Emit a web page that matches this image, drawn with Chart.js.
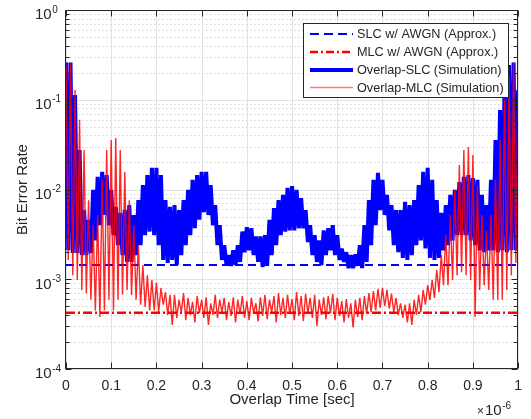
<!DOCTYPE html>
<html><head><meta charset="utf-8">
<script src="https://cdn.jsdelivr.net/npm/chart.js@4/dist/chart.umd.min.js"></script>
<style>html,body{margin:0;padding:0;background:#fff;overflow:hidden}</style>
</head><body>
<canvas id="c" width="531" height="419" style="display:block;width:531px;height:419px"></canvas>
<script>
// ---- data (x in units of 1e-6 s) ----
const seriesNames = ['SLC w/ AWGN (Approx.)', 'MLC w/ AWGN (Approx.)', 'Overlap-SLC (Simulation)', 'Overlap-MLC (Simulation)'];
const xTickValues = [0, 0.1, 0.2, 0.3, 0.4, 0.5, 0.6, 0.7, 0.8, 0.9, 1];
const xTickLabels = ['0', '0.1', '0.2', '0.3', '0.4', '0.5', '0.6', '0.7', '0.8', '0.9', '1'];
const yTickExponents = [-4, -3, -2, -1, 0];
const xMultiplierExp = '-6';
const slcApprox = 1.44e-3;
const mlcApprox = 4.24e-4;

// upper / lower extremes of the fast oscillation, sampled every 0.01e-6 s
const slcSimHigh = [
 0.26, 0.26, 0.113, 0.0275, 0.0059, 0.0046, 0.0099, 0.0138, 0.0157, 0.0145,
 0.0099, 0.0064, 0.0055, 0.0059, 0.0067, 0.0052, 0.0076, 0.0112, 0.0145, 0.0174,
 0.0174, 0.0145, 0.0076, 0.0064, 0.0067, 0.0059, 0.0076, 0.0099, 0.0128, 0.0145,
 0.0157, 0.0157, 0.0112, 0.0067, 0.0040, 0.0024, 0.00186, 0.0021, 0.0024, 0.0034,
 0.0038, 0.0037, 0.0030, 0.0030, 0.0031, 0.0046, 0.0062, 0.0076, 0.0087, 0.0104,
 0.0109, 0.0099, 0.0080, 0.0059, 0.0040, 0.0031, 0.0027, 0.0035, 0.0037, 0.0040,
 0.0031, 0.0022, 0.0020, 0.00186, 0.0019, 0.0024, 0.0040, 0.0076, 0.0128, 0.0153,
 0.0128, 0.0087, 0.0067, 0.0059, 0.0059, 0.0073, 0.0067, 0.0076, 0.0112, 0.0157,
 0.0174, 0.0128, 0.0076, 0.0055, 0.0067, 0.0087, 0.0099, 0.0121, 0.0138, 0.0145,
 0.0134, 0.0128, 0.0087, 0.0067, 0.0128, 0.0356, 0.0769, 0.146, 0.244, 0.26,
 0.128
];
const slcSimLow = [
 0.0021, 0.00196, 0.00196, 0.00186, 0.00186, 0.00196, 0.0027, 0.0040, 0.0052, 0.0040,
 0.0031, 0.0024, 0.00186, 0.00156, 0.00156, 0.00186, 0.0024, 0.0031, 0.0034, 0.0031,
 0.0024, 0.00164, 0.00152, 0.00164, 0.00144, 0.00186, 0.0024, 0.0031, 0.0037, 0.0046,
 0.0056, 0.0052, 0.0040, 0.0024, 0.00164, 0.00144, 0.00141, 0.00144, 0.00156, 0.0020,
 0.0021, 0.00186, 0.00156, 0.00137, 0.00144, 0.00186, 0.0024, 0.0031, 0.0034, 0.0035,
 0.0035, 0.0037, 0.0037, 0.0026, 0.00186, 0.00156, 0.00144, 0.00186, 0.0021, 0.00186,
 0.00164, 0.00156, 0.00133, 0.00133, 0.00141, 0.00133, 0.00156, 0.0024, 0.0040, 0.0059,
 0.0052, 0.0035, 0.0024, 0.0020, 0.00173, 0.00164, 0.00186, 0.0024, 0.0027, 0.0022,
 0.00173, 0.00164, 0.00173, 0.0021, 0.0024, 0.0027, 0.0031, 0.0031, 0.0031, 0.0027,
 0.0024, 0.0021, 0.0020, 0.0021, 0.0021, 0.0020, 0.0021, 0.0020, 0.0021, 0.0021
];
const mlcSimHigh = [
 0.244, 0.26, 0.128, 0.06, 0.0275, 0.0076, 0.0040, 0.0052, 0.0128, 0.0275,
 0.0356, 0.0375, 0.0275, 0.0157, 0.0076, 0.0040, 0.0024, 0.00144, 0.00111, 0.00098,
 0.00091, 0.00080, 0.00072, 0.00067, 0.00067, 0.00059, 0.00070, 0.00062, 0.00056, 0.00065,
 0.00059, 0.00063, 0.00054, 0.00067, 0.00059, 0.00062, 0.00056, 0.00063, 0.00059, 0.00065,
 0.00057, 0.00062, 0.00054, 0.00063, 0.00067, 0.00059, 0.00065, 0.00070, 0.00062, 0.00067,
 0.00060, 0.00072, 0.00065, 0.00069, 0.00062, 0.00067, 0.00059, 0.00063, 0.00065, 0.00069,
 0.00062, 0.00057, 0.00060, 0.00054, 0.00059, 0.00062, 0.00065, 0.00070, 0.00074, 0.00078,
 0.00080, 0.00076, 0.00069, 0.00062, 0.00054, 0.00052, 0.00054, 0.00059, 0.00067, 0.00076,
 0.00086, 0.00098, 0.00127, 0.00186, 0.0031, 0.0052, 0.0099, 0.0187, 0.0275, 0.0298,
 0.0242, 0.0112, 0.0052, 0.0035, 0.0052, 0.0128, 0.0356, 0.1, 0.189, 0.26,
 0.166
];
const mlcSimLow = [
 0.00164, 0.00111, 0.00098, 0.00076, 0.00070, 0.00059, 0.00045, 0.00038, 0.00045, 0.00059,
 0.00045, 0.00059, 0.00067, 0.00076, 0.00067, 0.00059, 0.00052, 0.00049, 0.00045, 0.00045,
 0.00043, 0.00052, 0.00040, 0.00031, 0.00037, 0.00043, 0.00035, 0.00040, 0.00033, 0.00042,
 0.00037, 0.00031, 0.00040, 0.00037, 0.00043, 0.00035, 0.00039, 0.00033, 0.00041, 0.00037,
 0.00035, 0.00042, 0.00034, 0.00039, 0.00036, 0.00043, 0.00033, 0.00040, 0.00037, 0.00041,
 0.00035, 0.00039, 0.00034, 0.00042, 0.00037, 0.00030, 0.00040, 0.00036, 0.00042, 0.00035,
 0.00039, 0.00033, 0.00037, 0.00029, 0.00038, 0.00035, 0.00041, 0.00043, 0.00045, 0.00048,
 0.00050, 0.00047, 0.00043, 0.00040, 0.00037, 0.00033, 0.00031, 0.00040, 0.00043, 0.00052,
 0.00059, 0.00062, 0.00072, 0.00086, 0.00086, 0.00098, 0.00111, 0.00120, 0.00111, 0.00098,
 0.00038, 0.00076, 0.00086, 0.00076, 0.00059, 0.00059, 0.00059, 0.00076, 0.00111, 0.00152
];
const sampleStep = 0.01;

// interleave the extremes into one oscillating trace
function oscillation(high, low) {
  const pts = [];
  for (let i = 0; i < high.length; i++) {
    pts.push({x: +(i * sampleStep).toFixed(4), y: high[i]});
    if (i < low.length) pts.push({x: +(i * sampleStep + sampleStep / 2).toFixed(4), y: low[i]});
  }
  return pts;
}

const TXT = '#262626';
const FONT = "'Liberation Sans', Arial, sans-serif";
Chart.defaults.font.family = FONT;
Chart.defaults.color = TXT;

const legendStyles = [
  {color: '#0000ff', width: 2, dash: [9, 5]},
  {color: '#ff0000', width: 2.5, dash: [8, 3, 2, 3]},
  {color: '#0000ff', width: 4, dash: []},
  {color: 'rgba(255,80,80,0.75)', width: 1.5, dash: []}
];

const matlabAxes = {
  id: 'matlabAxes',
  beforeDatasetsDraw(chart) {
    const {ctx, chartArea: a, scales: {x, y}} = chart;
    ctx.save();
    ctx.lineWidth = 1;
    // minor y grid (dotted)
    ctx.strokeStyle = '#d2d2d2';
    ctx.setLineDash([1.5, 2.5]);
    for (let e = -4; e < 0; e++) {
      for (let m = 2; m <= 9; m++) {
        const py = Math.round(y.getPixelForValue(m * Math.pow(10, e))) + 0.5;
        ctx.beginPath(); ctx.moveTo(a.left, py); ctx.lineTo(a.right, py); ctx.stroke();
      }
    }
    ctx.setLineDash([]);
    ctx.strokeStyle = '#e2e2e2';
    for (const e of yTickExponents) {
      const py = Math.round(y.getPixelForValue(Math.pow(10, e))) + 0.5;
      ctx.beginPath(); ctx.moveTo(a.left, py); ctx.lineTo(a.right, py); ctx.stroke();
    }
    for (const v of xTickValues) {
      const px = Math.round(x.getPixelForValue(v)) + 0.5;
      ctx.beginPath(); ctx.moveTo(px, a.top); ctx.lineTo(px, a.bottom); ctx.stroke();
    }
    ctx.restore();
  },
  afterDatasetsDraw(chart) {
    const {ctx, chartArea: a, scales: {x, y}} = chart;
    ctx.save();
    ctx.strokeStyle = TXT;
    ctx.lineWidth = 1;
    const L = Math.round(a.left) - 0.5, R = Math.round(a.right) - 0.5;
    const T = Math.round(a.top) + 0.5, B = Math.round(a.bottom) - 0.5;
    ctx.strokeRect(L, T, R - L, B - T);
    // tick marks (inward)
    ctx.beginPath();
    for (const v of xTickValues) {
      const px = Math.round(x.getPixelForValue(v)) + 0.5;
      ctx.moveTo(px, B); ctx.lineTo(px, B - 6);
      ctx.moveTo(px, T); ctx.lineTo(px, T + 6);
    }
    for (let e = -4; e <= 0; e++) {
      for (let m = 1; m <= 9; m++) {
        if (e === 0 && m > 1) break;
        const len = m === 1 ? 6 : 4;
        const py = Math.round(y.getPixelForValue(m * Math.pow(10, e))) + 0.5;
        ctx.moveTo(L, py); ctx.lineTo(L + len, py);
        ctx.moveTo(R, py); ctx.lineTo(R - len, py);
      }
    }
    ctx.stroke();
    // y tick labels 10^e
    ctx.fillStyle = TXT;
    ctx.textAlign = 'left';
    ctx.textBaseline = 'alphabetic';
    for (const e of yTickExponents) {
      const py = y.getPixelForValue(Math.pow(10, e));
      ctx.font = '15px ' + FONT;
      ctx.fillText('10', 35, py + 9.4);
      const w = ctx.measureText('10').width;
      ctx.font = '10px ' + FONT;
      ctx.fillText(String(e), 35 + w + 0.5, py + 2.6);
    }
    // x multiplier
    ctx.font = '12px ' + FONT;
    ctx.fillText('\u00d7', 477, 415);
    ctx.font = '15px ' + FONT;
    ctx.fillText('10', 485, 415.4);
    const w10 = ctx.measureText('10').width;
    ctx.font = '10px ' + FONT;
    ctx.fillText(xMultiplierExp, 485 + w10 + 0.5, 408.6);
    // legend
    const lx = 303.5, ly = 23.5, lw = 205, lh = 74;
    ctx.fillStyle = '#ffffff';
    ctx.fillRect(lx, ly, lw, lh);
    ctx.strokeStyle = TXT;
    ctx.lineWidth = 1;
    ctx.strokeRect(lx, ly, lw, lh);
    const rows = [34, 52, 70, 87.5];
    ctx.font = '12.7px ' + FONT;
    ctx.textBaseline = 'middle';
    chart.data.datasets.forEach((ds, i) => {
      const st = legendStyles[i];
      ctx.strokeStyle = st.color;
      ctx.lineWidth = st.width;
      ctx.setLineDash(st.dash);
      ctx.beginPath(); ctx.moveTo(310, rows[i]); ctx.lineTo(353, rows[i]); ctx.stroke();
      ctx.setLineDash([]);
      ctx.fillStyle = TXT;
      ctx.fillText(ds.label, 357, rows[i] + 0.5);
    });
    ctx.restore();
  }
};

new Chart(document.getElementById('c'), {
  type: 'line',
  data: {
    datasets: [
      {label: seriesNames[0], data: [{x: 0, y: slcApprox}, {x: 1, y: slcApprox}],
       borderColor: '#0000ff', borderWidth: 2, borderDash: [8, 5], order: 2},
      {label: seriesNames[1], data: [{x: 0, y: mlcApprox}, {x: 1, y: mlcApprox}],
       borderColor: '#ff0000', borderWidth: 2.5, borderDash: [9, 3, 2, 3], order: 1},
      {label: seriesNames[2], data: oscillation(slcSimHigh, slcSimLow),
       borderColor: '#0000ff', borderWidth: 4, borderJoinStyle: 'bevel', order: 3},
      {label: seriesNames[3], data: oscillation(mlcSimHigh, mlcSimLow),
       borderColor: 'rgba(255,0,0,0.85)', borderWidth: 1.4, borderJoinStyle: 'bevel', order: 0}
    ]
  },
  options: {
    responsive: false,
    animation: false,
    devicePixelRatio: 1,
    layout: {padding: {top: 10, right: 9, left: 0, bottom: 0}},
    elements: {point: {radius: 0}, line: {tension: 0, fill: false}},
    plugins: {legend: {display: false}, tooltip: {enabled: false}},
    scales: {
      x: {
        type: 'linear', min: 0, max: 1,
        afterFit(s) { s.height = 50; },
        grid: {display: false, drawTicks: false},
        border: {display: false},
        ticks: {stepSize: 0.1, autoSkip: false, maxRotation: 0, padding: 9,
                font: {size: 14}, color: TXT,
                callback: (v, i) => xTickLabels[i]},
        title: {display: true, text: 'Overlap Time [sec]', font: {size: 15}, color: TXT,
                padding: {top: 0, bottom: 10}}
      },
      y: {
        type: 'logarithmic', min: 1e-4, max: 1,
        afterFit(s) { s.width = 66; },
        grid: {display: false, drawTicks: false},
        border: {display: false},
        ticks: {display: false},
        title: {display: true, text: 'Bit Error Rate', font: {size: 15}, color: TXT,
                padding: {top: 14, bottom: 0}}
      }
    }
  },
  plugins: [matlabAxes]
});
</script>
</body></html>
